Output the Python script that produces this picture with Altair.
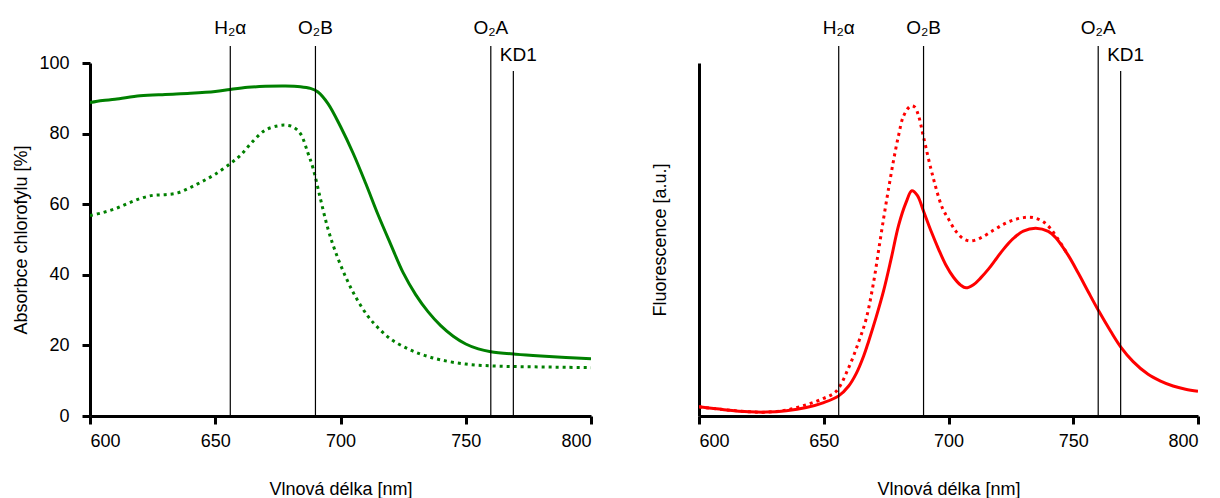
import altair as alt
import pandas as pd

# ---- data ----
abs_solid_nm = [600, 605, 610, 620, 630, 640, 650, 656, 663, 670, 678, 684, 688, 691, 695, 700, 705, 710, 715, 720, 725, 730, 735, 740, 745, 750, 755, 760, 770, 780, 790, 800]
abs_solid_val = [88.8, 89.4, 89.7, 90.7, 91.1, 91.4, 91.9, 92.5, 93.1, 93.4, 93.5, 93.3, 92.8, 91.8, 88.5, 82.0, 74.5, 66.0, 57.0, 48.7, 40.6, 34.4, 29.5, 25.6, 22.6, 20.4, 19.0, 18.2, 17.5, 17.0, 16.6, 16.2]

abs_dot_nm = [600, 605, 610, 615, 620, 625, 630, 635, 640, 645, 650, 656, 660, 665, 670, 675, 678, 681, 684, 687, 689, 692, 695, 698, 702, 706, 711, 715, 720, 727, 733, 740, 750, 760, 770, 780, 790, 800]
abs_dot_val = [56.8, 57.6, 58.7, 60.2, 61.6, 62.5, 62.7, 63.2, 64.7, 66.5, 68.5, 71.5, 73.8, 77.8, 81.0, 82.2, 82.4, 81.9, 80.0, 74.5, 70.3, 61.5, 53.0, 46.5, 39.5, 33.8, 28.2, 25.0, 21.8, 19.0, 17.3, 15.9, 14.7, 14.2, 14.0, 13.9, 13.8, 13.7]

fl_solid_nm = [600, 610, 620, 627, 635, 643, 650, 656, 660, 663, 666, 668, 671, 674, 677, 680, 683, 685.3, 687.5, 690, 693, 696, 699, 702, 705, 707, 710, 713, 716, 719, 722, 726, 730, 735, 740, 743, 748, 752, 756, 760, 765, 769, 774, 780, 785, 790, 795, 800]
fl_solid_val = [2.6, 1.8, 1.2, 1.1, 1.5, 2.4, 3.8, 5.7, 8.5, 12.0, 17.0, 21.2, 28.0, 35.5, 44.5, 54.0, 60.5, 63.8, 62.5, 58.0, 52.4, 47.3, 42.7, 39.3, 37.0, 36.3, 37.2, 39.2, 41.6, 44.4, 47.2, 50.3, 52.4, 53.2, 52.3, 50.5, 45.5, 40.5, 35.2, 30.0, 24.0, 19.6, 15.4, 11.8, 9.9, 8.5, 7.6, 7.0]

fl_dot_nm = [600, 610, 620, 627, 635, 643, 650, 655, 660, 664, 667, 670, 672, 674, 676, 678, 680, 682, 684.8, 686.5, 688, 690, 693.5, 697.5, 700, 703, 706, 709, 713, 718, 722, 726, 730, 734, 738, 741, 744, 748]
fl_dot_val = [2.6, 1.8, 1.2, 1.1, 1.7, 3.2, 5.0, 7.0, 13.7, 21.0, 27.5, 38.0, 47.0, 56.0, 64.5, 72.5, 79.5, 85.0, 87.8, 87.5, 85.0, 79.0, 68.5, 59.0, 55.8, 52.3, 50.2, 49.6, 50.5, 52.6, 54.3, 55.5, 56.2, 56.2, 55.0, 53.0, 50.0, 45.5]

line_names = ["H\u2082\u03b1", "O\u2082B", "O\u2082A", "KD1"]
line_nm = [656, 690, 760, 769]

x_ticks = [600, 650, 700, 750, 800]
y_ticks = [0, 20, 40, 60, 80, 100]

FONT = "Liberation Sans"
H = 353

lines_df = pd.DataFrame({"name": line_names, "nm": line_nm})


def curve(nm, val, color, dotted, xscale, yscale, xaxis, yaxis):
    df = pd.DataFrame({"nm": nm, "v": val})
    mk = dict(color=color, strokeWidth=3, interpolate="catmull-rom", clip=True)
    if dotted:
        mk["strokeDash"] = [3, 4]
    return alt.Chart(df).mark_line(**mk).encode(
        x=alt.X("nm:Q", scale=xscale, axis=xaxis),
        y=alt.Y("v:Q", scale=yscale, axis=yaxis),
    )


def markers(xscale):
    main = lines_df[lines_df["name"] != "KD1"]
    kd = lines_df[lines_df["name"] == "KD1"]
    r1 = alt.Chart(main).mark_rule(color="black", strokeWidth=1.2).encode(
        x=alt.X("nm:Q", scale=xscale), y=alt.value(-17), y2=alt.value(H))
    r2 = alt.Chart(kd).mark_rule(color="black", strokeWidth=1.2).encode(
        x=alt.X("nm:Q", scale=xscale), y=alt.value(8), y2=alt.value(H))
    t1 = alt.Chart(main).mark_text(font=FONT, fontSize=19, baseline="alphabetic", align="center", color="black").encode(
        x=alt.X("nm:Q", scale=xscale), y=alt.value(-29), text="name:N")
    t2 = alt.Chart(kd).mark_text(font=FONT, fontSize=19, baseline="alphabetic", align="center", dx=5, color="black").encode(
        x=alt.X("nm:Q", scale=xscale), y=alt.value(-2), text="name:N")
    return [r1, r2, t1, t2]


xscale = alt.Scale(domain=[600, 800], nice=False, zero=False)
yscale = alt.Scale(domain=[0, 100], nice=False)

xaxis = alt.Axis(title="Vlnová délka [nm]", values=x_ticks, format="d", labelPadding=8, titlePadding=30)
yaxis_left = alt.Axis(title="Absorbce chlorofylu [%]", values=y_ticks, labelPadding=13, titlePadding=8)
yaxis_right = alt.Axis(title="Fluorescence [a.u.]", labels=False, ticks=False, titlePadding=30)

left = alt.layer(
    curve(abs_dot_nm, abs_dot_val, "#008000", True, xscale, yscale, xaxis, yaxis_left),
    curve(abs_solid_nm, abs_solid_val, "#008000", False, xscale, yscale, xaxis, yaxis_left),
    *markers(xscale),
).properties(width=501, height=H)

right = alt.layer(
    curve(fl_dot_nm, fl_dot_val, "#ff0000", True, xscale, yscale, xaxis, yaxis_right),
    curve(fl_solid_nm, fl_solid_val, "#ff0000", False, xscale, yscale, xaxis, yaxis_right),
    *markers(xscale),
).properties(width=499, height=H)

chart = alt.hconcat(left, right, spacing=58).resolve_scale(x="independent", y="independent").properties(
    padding={"left": 12, "top": 19, "right": 5, "bottom": 2}
).configure(background="white").configure_view(stroke=None).configure_axis(
    grid=False,
    domainColor="black",
    domainWidth=3,
    tickColor="black",
    tickWidth=3,
    tickSize=8,
    labelFont=FONT,
    titleFont=FONT,
    labelFontSize=18,
    titleFontSize=18,
    titleFontWeight="normal",
    labelColor="black",
    titleColor="black",
)

chart.save("out.html", embed_options={"renderer": "svg", "actions": False})
